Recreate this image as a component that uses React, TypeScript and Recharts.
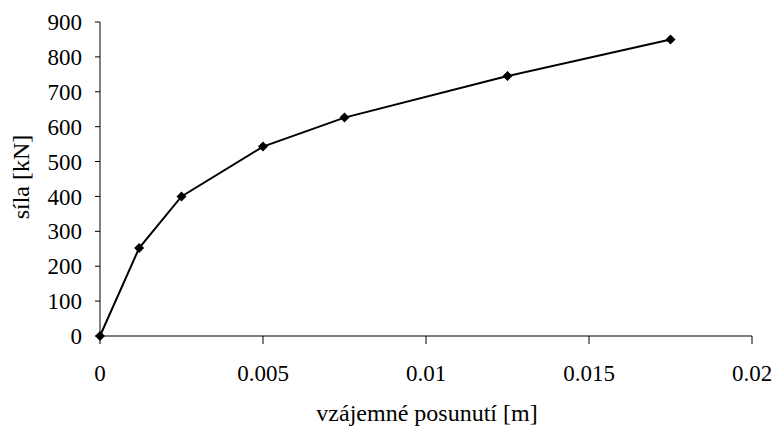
import React from 'react';
import { LineChart, Line, XAxis, YAxis } from 'recharts';

// displacement [m] and force [kN]
const posunuti = [0, 0.0012, 0.0025, 0.005, 0.0075, 0.0125, 0.0175];
const sila = [0, 252, 400, 543, 626, 745, 850];
const xTicks = [0, 0.005, 0.01, 0.015, 0.02];
const yTicks = [0, 100, 200, 300, 400, 500, 600, 700, 800, 900];

const data = posunuti.map((x, i) => ({ x, y: sila[i] }));

const FONT = '"Liberation Serif", "Times New Roman", serif';

const Diamond = (props: any) => {
  const { cx, cy } = props;
  if (cx == null || cy == null) return null;
  const r = 5;
  return (
    <path
      d={`M${cx},${cy - r} L${cx + r},${cy} L${cx},${cy + r} L${cx - r},${cy} Z`}
      fill="#000"
      stroke="none"
    />
  );
};

const XTick = (p: any) => (
  <text x={p.x} y={p.y} dy="0.71em" textAnchor="middle" fill="#000" style={{ fontFamily: FONT, fontSize: 23 }}>
    {p.payload.value}
  </text>
);

const YTick = (p: any) => (
  <text x={p.x} y={p.y} dy="0.355em" textAnchor="end" fill="#000" style={{ fontFamily: FONT, fontSize: 23 }}>
    {p.payload.value}
  </text>
);

const App: React.FC = () => (
  <div style={{ position: 'absolute', left: 0, top: 0, background: '#fff' }}>
    <LineChart
      width={774}
      height={429}
      data={data}
      margin={{ top: 22, right: 22, bottom: 0, left: 0 }}
    >
      <XAxis
        dataKey="x"
        type="number"
        domain={[0, 0.02]}
        ticks={xTicks}
        height={93}
        stroke="#000"
        tickSize={8}
        tickMargin={21}
        tick={XTick}
        label={{
          content: () => (
            <text x={427} y={421} textAnchor="middle" fill="#000" style={{ fontFamily: FONT, fontSize: 24 }}>
              vzájemné posunutí [m]
            </text>
          ),
        }}
      />
      <YAxis
        dataKey="y"
        type="number"
        domain={[0, 900]}
        ticks={yTicks}
        width={100}
        stroke="#000"
        tickSize={5}
        tickMargin={13}
        tick={YTick}
        label={{
          content: () => (
            <text
              x={28.5}
              y={177}
              textAnchor="middle"
              fill="#000"
              style={{ fontFamily: FONT, fontSize: 24 }}
              transform="rotate(-90 28.5 177)"
            >
              síla [kN]
            </text>
          ),
        }}
      />
      <Line
        type="linear"
        dataKey="y"
        stroke="#000"
        strokeWidth={2}
        dot={<Diamond />}
        activeDot={false}
        isAnimationActive={false}
      />
    </LineChart>
  </div>
);

export default App;
